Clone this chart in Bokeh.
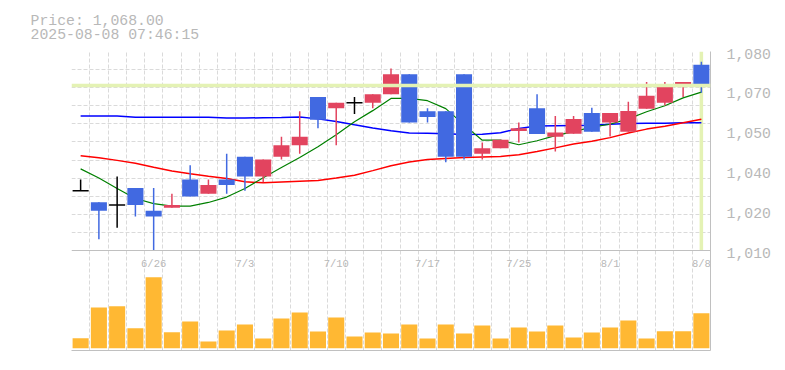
from bokeh.plotting import figure
from bokeh.models import Range1d, FixedTicker, Span, Title
from bokeh.core.properties import value
from bokeh.embed import file_html
from bokeh.resources import INLINE

# ---------------- data ----------------
price_text = "Price: 1,068.00"
time_text = "2025-08-08 07:46:15"
current_price = 1068.0

opens = [1031, 1027, 1026, 1032, 1024, 1025, 1035, 1030, 1035, 1043,
         1036, 1043, 1047, 1064, 1060, 1062, 1062, 1065, 1072, 1059,
         1059, 1072, 1044, 1046, 1052, 1060, 1050, 1051.1, 1058.4, 1055,
         1051.8, 1059.9, 1062, 1067.9, 1075.3]
highs = [1035, 1027, 1036, 1032, 1032, 1030, 1040, 1035, 1044, 1043,
         1042, 1050, 1059, 1064, 1062, 1064, 1065, 1074, 1072, 1060,
         1059, 1072, 1048, 1049, 1055, 1065, 1057.3, 1057.3, 1060.2, 1058.4,
         1062.3, 1069.3, 1069.3, 1069.3, 1076.4]
lows = [1031, 1014, 1018, 1022, 1010, 1025, 1029, 1030, 1030, 1031,
        1034, 1042, 1044, 1053, 1047, 1058, 1060, 1065, 1055, 1055,
        1041, 1042, 1042, 1046, 1048, 1051, 1044.8, 1051.1, 1051.8, 1050.1,
        1051.8, 1059.9, 1061, 1064, 1065.5]
closes = [1031, 1024, 1026, 1026, 1022, 1026, 1029, 1033, 1033, 1036,
          1042, 1047, 1050, 1056, 1062, 1062, 1065, 1072, 1055, 1057,
          1043, 1043, 1046, 1049, 1053, 1051, 1051.5, 1056.3, 1051.8, 1058.4,
          1059.1, 1064.4, 1068.3, 1069.3, 1068.0]
volumes = [3000, 12200, 12600, 6000, 21300, 4800, 8000, 2000, 5300, 7100,
           2900, 8900, 10700, 5000, 9200, 3500, 4700, 4400, 7100, 2900,
           7100, 4400, 6800, 2900, 6200, 5000, 6800, 3200, 4700, 6200,
           8300, 2900, 5100, 5100, 10500]
ma_short = [1038.7, 1035.5, 1031.8, 1028.3, 1026.5, 1025.6, 1025.6, 1026.9, 1028.8, 1031.8,
            1035.6, 1039.2, 1042.7, 1046.5, 1050.7, 1055.3, 1059.2, 1063.5, 1063.5, 1062.7,
            1059.9, 1054.2, 1048.8, 1048.8, 1047.2, 1048.6, 1050.4, 1051.8, 1053.4, 1054.4,
            1056.3, 1058.8, 1060.9, 1063.7, 1065.7]
ma_mid = [1043.3, 1042.6, 1041.7, 1040.7, 1039.3, 1038.0, 1037.0, 1036.1, 1035.3, 1034.2,
          1033.8, 1034.1, 1034.4, 1034.6, 1035.5, 1036.5, 1038.1, 1039.8, 1041.1, 1042.0,
          1042.4, 1042.7, 1042.9, 1043.1, 1043.7, 1044.8, 1046.1, 1047.5, 1048.4, 1049.7,
          1051.3, 1052.7, 1053.7, 1054.9, 1056.2]
ma_long = [1057.3, 1057.3, 1057.3, 1056.9, 1056.9, 1056.9, 1056.9, 1056.9, 1056.6, 1056.6,
           1056.7, 1056.8, 1057.0, 1056.3, 1055.4, 1054.2, 1053.1, 1052.1, 1051.3, 1051.2,
           1051.1, 1050.8, 1050.9, 1051.4, 1052.9, 1053.8, 1053.9, 1054.0, 1054.1, 1054.4,
           1054.7, 1054.8, 1054.8, 1054.9, 1054.9]
date_pos = [4, 9, 14, 19, 24, 29, 34]
date_labels = ["6/26", "7/3", "7/10", "7/17", "7/25", "8/1", "8/8"]
ytick_vals = [1010, 1024, 1038, 1052, 1066, 1080]
ytick_labels = ["1,010", "1,020", "1,040", "1,050", "1,070", "1,080"]

# ---------------- styles ----------------
P_LO, P_HI = 1010, 1080
UP, DOWN, EVEN = "#e2445f", "#4169e1", "#000000"
VOL_C = "#ffb833"
TXT = "#b8b8b8"
GRID = "#dadada"
AX = "#c0c0c0"
HL = "#e4f2b4"
MONO = "Liberation Mono"

n = len(closes)
idx = list(range(n))

W, H = 777, 361
TOP, BOT, LEFT, RIGHT = 51, 11, 71, 67
frame_h = H - TOP - BOT
frame_w = W - LEFT - RIGHT
px_x = frame_w / n
px_per = (250 - 51) / (P_HI - P_LO)
y_bottom = P_LO - (frame_h - (P_HI - P_LO) * px_per) / px_per

p = figure(width=W, height=H, output_backend="svg", toolbar_location=None,
           x_range=Range1d(-0.5, n - 0.5), y_range=Range1d(y_bottom, P_HI),
           y_axis_location="right",
           min_border_left=LEFT, min_border_right=RIGHT,
           min_border_top=TOP, min_border_bottom=BOT)
p.outline_line_color = None
p.background_fill_color = "white"
p.border_fill_color = "white"
p.extra_y_ranges = {"vol": Range1d(-700, 89000)}

# two-line header
p.add_layout(Title(text=price_text + "\n" + time_text, align="left", offset=-41,
                   standoff=16, text_line_height=0.88,
                   text_font=MONO, text_font_size="14.8px", text_font_style="normal",
                   text_color=TXT), "above")

# grid
p.xgrid.ticker = FixedTicker(ticks=[i - 0.5 for i in range(n)])
p.ygrid.ticker = FixedTicker(ticks=[P_HI - (P_HI - P_LO) * k / 11 for k in range(11)])
for g in (p.xgrid, p.ygrid):
    g.grid_line_color = GRID
    g.grid_line_dash = "4 2"
    g.grid_line_width = 1

# right axis (labels sit a little below their price level)
shift = 2.0 / px_per
tick_pos = [v - shift for v in ytick_vals]
ya = p.yaxis[0]
ya.ticker = FixedTicker(ticks=tick_pos)
ya.major_label_overrides = dict(zip(tick_pos, ytick_labels))
ya.major_tick_line_color = None
ya.minor_tick_line_color = None
ya.axis_line_color = AX
ya.major_label_standoff = 10
ya.major_label_text_font = MONO
ya.major_label_text_font_size = "14.8px"
ya.major_label_text_color = TXT

# bottom axis line only
xa = p.xaxis[0]
xa.ticker = FixedTicker(ticks=[])
xa.major_tick_line_color = None
xa.minor_tick_line_color = None
xa.major_label_text_font_size = "0px"
xa.axis_line_color = AX

# separator between panels
p.add_layout(Span(location=P_LO, dimension="width", line_color=AX, line_width=1))

# current price lines
p.add_layout(Span(location=current_price, dimension="width", line_color=HL, line_width=3.5))
p.segment(x0=[n - 1], y0=[P_LO], x1=[n - 1], y1=[P_HI], line_color=HL, line_width=3.5)

# volume
p.vbar(x=idx, top=volumes, bottom=0, width=0.88, fill_color=VOL_C, line_color=None,
       y_range_name="vol")

# moving averages
p.line(idx, ma_long, line_color="#0000ff", line_width=1.5)
p.line(idx, ma_mid, line_color="#ff0000", line_width=1.5)
p.line(idx, ma_short, line_color="#008000", line_width=1.2)

# candles
cols = [UP if c > o else DOWN if c < o else EVEN for o, c in zip(opens, closes)]
p.segment(x0=idx, y0=highs, x1=idx, y1=lows, line_color=cols, line_width=1.5)
bx, bt, bb, bc = [], [], [], []
dx, dy = [], []
for i, (o, c, col) in enumerate(zip(opens, closes, cols)):
    if o == c:
        dx.append(i)
        dy.append(o)
    else:
        bx.append(i)
        bt.append(max(o, c))
        bb.append(min(o, c))
        bc.append(col)
p.vbar(x=bx, top=bt, bottom=bb, width=0.88, fill_color=bc, line_color=None)
p.segment(x0=[x - 0.44 for x in dx], y0=dy, x1=[x + 0.44 for x in dx], y1=dy,
          line_color=EVEN, line_width=1.5)

# date labels inside volume panel
p.text(x=date_pos, y=[P_LO - 13.5 / px_per] * len(date_pos), text=date_labels,
       text_align="center", text_baseline="middle", text_font=value(MONO),
       text_font_size="10.5px", text_color=TXT)

open("out.html", "w").write(file_html(p, INLINE))
